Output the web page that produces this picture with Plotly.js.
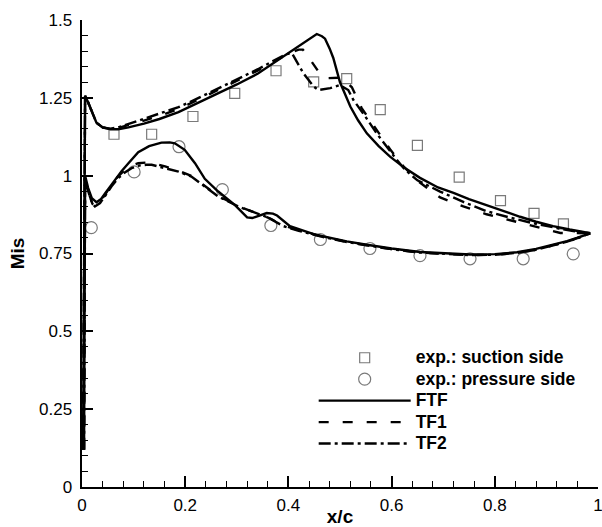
<!DOCTYPE html>
<html>
<head>
<meta charset="utf-8">
<script src="https://cdn.plot.ly/plotly-3.0.1.min.js"></script>
<style>html,body{margin:0;padding:0;background:#fff;}#chart{width:602px;height:527px;}</style>
</head>
<body>
<div id="chart"></div>
<script>
// Experimental data
const expSucX = [0.062, 0.135, 0.215, 0.296, 0.376, 0.449, 0.513, 0.578, 0.650, 0.731, 0.811, 0.876, 0.933];
const expSucY = [1.133, 1.133, 1.190, 1.264, 1.337, 1.301, 1.312, 1.212, 1.097, 0.995, 0.920, 0.879, 0.845];
const expPreX = [0.018, 0.101, 0.188, 0.272, 0.366, 0.462, 0.558, 0.655, 0.752, 0.855, 0.952];
const expPreY = [0.833, 1.012, 1.093, 0.955, 0.840, 0.795, 0.766, 0.743, 0.733, 0.733, 0.749];

// FTF
const ftfSucX = [0.002, 0.006, 0.012, 0.019, 0.028, 0.04, 0.055, 0.07, 0.09, 0.12, 0.15, 0.187, 0.22, 0.25, 0.30, 0.341, 0.37, 0.403, 0.43, 0.455, 0.465, 0.471, 0.48, 0.487, 0.50, 0.51, 0.52, 0.535, 0.552, 0.575, 0.597, 0.625, 0.655, 0.69, 0.72, 0.75, 0.784, 0.815, 0.849, 0.88, 0.913, 0.945, 0.965, 0.985];
const ftfSucY = [0.12, 1.257, 1.235, 1.205, 1.170, 1.155, 1.149, 1.149, 1.155, 1.167, 1.182, 1.204, 1.230, 1.254, 1.293, 1.328, 1.360, 1.398, 1.427, 1.455, 1.448, 1.440, 1.408, 1.378, 1.300, 1.258, 1.222, 1.178, 1.136, 1.095, 1.061, 1.025, 0.993, 0.962, 0.945, 0.925, 0.905, 0.887, 0.868, 0.852, 0.838, 0.827, 0.820, 0.815];
const ftfPreX = [0.004, 0.006, 0.012, 0.019, 0.028, 0.037, 0.045, 0.055, 0.064, 0.077, 0.09, 0.109, 0.13, 0.154, 0.17, 0.18, 0.199, 0.219, 0.238, 0.264, 0.296, 0.320, 0.33, 0.339, 0.358, 0.37, 0.378, 0.403, 0.423, 0.449, 0.462, 0.513, 0.552, 0.6, 0.655, 0.707, 0.752, 0.8, 0.843, 0.88, 0.913, 0.94, 0.959, 0.985];
const ftfPreY = [0.12, 1.0, 0.96, 0.928, 0.915, 0.925, 0.944, 0.966, 0.987, 1.015, 1.040, 1.075, 1.095, 1.106, 1.107, 1.104, 1.083, 1.040, 0.990, 0.949, 0.906, 0.866, 0.864, 0.869, 0.880, 0.878, 0.872, 0.838, 0.826, 0.812, 0.807, 0.789, 0.778, 0.766, 0.755, 0.750, 0.747, 0.748, 0.754, 0.765, 0.778, 0.790, 0.800, 0.815];

// TF1
const tf1SucX = [0.002, 0.006, 0.012, 0.019, 0.028, 0.04, 0.055, 0.07, 0.09, 0.12, 0.15, 0.187, 0.22, 0.25, 0.30, 0.341, 0.37, 0.40, 0.42, 0.428, 0.445, 0.458, 0.474, 0.503, 0.523, 0.542, 0.571, 0.597, 0.623, 0.649, 0.694, 0.739, 0.784, 0.830, 0.875, 0.927, 0.985];
const tf1SucY = [0.12, 1.257, 1.235, 1.205, 1.170, 1.155, 1.150, 1.153, 1.162, 1.177, 1.192, 1.214, 1.240, 1.264, 1.303, 1.338, 1.365, 1.392, 1.405, 1.405, 1.366, 1.335, 1.313, 1.315, 1.284, 1.217, 1.147, 1.085, 1.030, 0.985, 0.930, 0.901, 0.876, 0.857, 0.836, 0.816, 0.815];
const tf1PreX = [0.004, 0.006, 0.012, 0.02, 0.025, 0.035, 0.045, 0.057, 0.07, 0.083, 0.096, 0.109, 0.125, 0.135, 0.161, 0.187, 0.212, 0.238, 0.264, 0.303, 0.335, 0.35, 0.365, 0.39, 0.42, 0.462, 0.513, 0.552, 0.6, 0.655, 0.707, 0.752, 0.8, 0.843, 0.88, 0.913, 0.94, 0.96, 0.985];
const tf1PreY = [0.12, 0.99, 0.95, 0.91, 0.902, 0.915, 0.940, 0.970, 0.998, 1.018, 1.032, 1.040, 1.042, 1.040, 1.030, 1.016, 0.999, 0.967, 0.935, 0.902, 0.880, 0.872, 0.862, 0.840, 0.825, 0.806, 0.787, 0.776, 0.764, 0.753, 0.748, 0.745, 0.746, 0.752, 0.762, 0.775, 0.788, 0.799, 0.815];

// TF2
const tf2SucX = [0.002, 0.006, 0.012, 0.019, 0.028, 0.04, 0.055, 0.07, 0.09, 0.12, 0.15, 0.187, 0.22, 0.25, 0.30, 0.341, 0.37, 0.395, 0.407, 0.418, 0.429, 0.449, 0.458, 0.481, 0.50, 0.516, 0.526, 0.549, 0.571, 0.610, 0.626, 0.65, 0.694, 0.74, 0.784, 0.830, 0.875, 0.92, 0.952, 0.985];
const tf2SucY = [0.12, 1.257, 1.235, 1.205, 1.170, 1.155, 1.151, 1.155, 1.166, 1.182, 1.198, 1.220, 1.245, 1.269, 1.308, 1.342, 1.368, 1.390, 1.393, 1.360, 1.329, 1.286, 1.275, 1.281, 1.291, 1.275, 1.243, 1.190, 1.136, 1.051, 1.019, 0.985, 0.949, 0.915, 0.886, 0.865, 0.847, 0.832, 0.822, 0.815];
const tf2PreX = [0.004, 0.006, 0.012, 0.02, 0.025, 0.035, 0.045, 0.057, 0.07, 0.083, 0.096, 0.109, 0.125, 0.135, 0.161, 0.187, 0.212, 0.238, 0.264, 0.303, 0.335, 0.36, 0.39, 0.42, 0.462, 0.513, 0.552, 0.6, 0.655, 0.707, 0.752, 0.8, 0.843, 0.88, 0.913, 0.94, 0.96, 0.985];
const tf2PreY = [0.12, 0.99, 0.95, 0.91, 0.901, 0.912, 0.935, 0.965, 0.992, 1.010, 1.024, 1.032, 1.035, 1.035, 1.024, 1.013, 0.997, 0.965, 0.933, 0.901, 0.880, 0.866, 0.838, 0.823, 0.805, 0.787, 0.776, 0.764, 0.753, 0.748, 0.745, 0.746, 0.752, 0.762, 0.775, 0.788, 0.799, 0.815];

const seriesNames = ['exp.: suction side', 'exp.: pressure side', 'FTF', 'TF1', 'TF2'];
const xTickVals = [0, 0.2, 0.4, 0.6, 0.8, 1];
const yTickVals = [0, 0.25, 0.5, 0.75, 1, 1.25, 1.5];

const lw = 2.4;
const dashTF1 = '10px,14px';
const dashTF2 = '12px,4px,3px,4px';

// legend label: bigger glyphs than the (tight) legend row spacing
function lbl(s) { return '<span style="font-size:17.5px">' + s + '</span>'; }

function line(x, y, name, dash, show) {
  return {x: x, y: y, type: 'scatter', mode: 'lines', name: lbl(name), legendgroup: name,
    showlegend: show, line: {color: '#000', width: lw, dash: dash}};
}

const traces = [
  {x: expSucX, y: expSucY, type: 'scatter', mode: 'markers', name: lbl(seriesNames[0]),
   marker: {symbol: 'square-open', size: 10, color: '#7a7a7a', line: {width: 1.2, color: '#7a7a7a'}}},
  {x: expPreX, y: expPreY, type: 'scatter', mode: 'markers', name: lbl(seriesNames[1]),
   marker: {symbol: 'circle-open', size: 12, color: '#7a7a7a', line: {width: 1.2, color: '#7a7a7a'}}},
  line(ftfSucX, ftfSucY, seriesNames[2], 'solid', true),
  line(ftfPreX, ftfPreY, seriesNames[2], 'solid', false),
  line(tf1SucX, tf1SucY, seriesNames[3], dashTF1, true),
  line(tf1PreX, tf1PreY, seriesNames[3], dashTF1, false),
  line(tf2SucX, tf2SucY, seriesNames[4], dashTF2, true),
  line(tf2PreX, tf2PreY, seriesNames[4], dashTF2, false)
];

const layout = {
  width: 602, height: 527,
  margin: {l: 82, r: 4, t: 20, b: 40, pad: 0},
  paper_bgcolor: '#fff', plot_bgcolor: '#fff',
  font: {family: 'Liberation Sans, Arial, sans-serif', color: '#000', size: 17},
  showlegend: true,
  legend: {x: 0.449, y: 0.3105, xanchor: 'left', yanchor: 'top', bgcolor: 'rgba(0,0,0,0)',
    font: {family: 'Liberation Sans, Arial, sans-serif', size: 14.2, color: '#000', weight: 'bold'},
    itemwidth: 92, tracegroupgap: 0, traceorder: 'normal'},
  xaxis: {range: [0, 1], tickvals: xTickVals, ticks: 'inside', ticklen: 11, tickwidth: 2, tickcolor: '#000',
    showline: true, linewidth: 2, linecolor: '#000', showgrid: false, zeroline: false, mirror: false,
    tickfont: {size: 17}, ticklabelstandoff: 2, ticklabeloverflow: 'allow',
    minor: {dtick: 0.04, ticks: 'inside', ticklen: 6, tickwidth: 1, tickcolor: '#000', showgrid: false},
    title: {text: 'x/c', font: {size: 19, weight: 'bold'}, standoff: 4}},
  yaxis: {range: [0, 1.5], tickvals: yTickVals, ticks: 'inside', ticklen: 11, tickwidth: 2, tickcolor: '#000',
    showline: true, linewidth: 2.5, linecolor: '#000', showgrid: false, zeroline: false, mirror: false,
    tickfont: {size: 17}, ticklabelstandoff: 4, ticklabeloverflow: 'allow',
    minor: {dtick: 0.05, ticks: 'inside', ticklen: 6, tickwidth: 1, tickcolor: '#000', showgrid: false},
    title: {text: 'Mis', font: {size: 19, weight: 'bold'}, standoff: 10}}
};

Plotly.newPlot('chart', traces, layout, {displayModeBar: false, staticPlot: true});
</script>
</body>
</html>
